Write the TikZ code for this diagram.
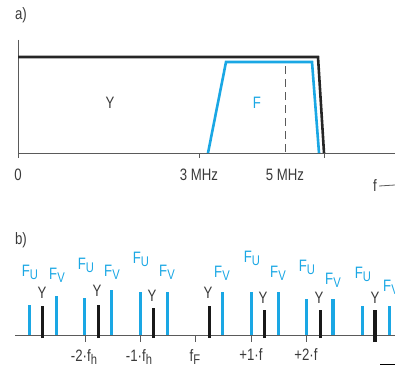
\documentclass[tikz,border=0pt]{standalone}
\usepackage{fontspec}
\setmainfont[FakeStretch=0.8]{Liberation Sans}
\usetikzlibrary{positioning}
\definecolor{Cyan}{HTML}{1AA7E4}
\definecolor{Axis}{HTML}{5A5A5A}
\definecolor{Ink}{HTML}{3A3A3A}
\newcommand{\lowsub}[1]{\raisebox{-3pt}{\fontsize{14}{14}\selectfont #1}}

\begin{document}
\begin{tikzpicture}[x=1pt,y=-1pt,font=\fontsize{16.5}{19}\selectfont,
  lbl/.style={text=Ink,inner sep=0pt},
  clbl/.style={text=Cyan,inner sep=0pt}]
  \useasboundingbox (0,0) rectangle (395,369);
  % a) band of Y and F
  \node[lbl] (pa) at (21,15) {a)};
  \draw[Axis,thick] (18,40) -- (18,158);
  \draw[Axis,thick] (18,153) -- (395,153);
  \foreach \x in {199,324} \draw[Axis,thick] (\x,153) -- (\x,158);
  \draw[Axis,thick,dash pattern=on 8pt off 5pt] (285,66) -- (285,153);
  \draw[Cyan,line width=2.6pt] (208,153) -- (226,62) -- (312,62) -- (319,153);
  \draw[black!85,line width=2.6pt] (18,57) -- (318,57) -- (324,153);
  \node[lbl] (ytop) at (110,103) {Y};
  \node[clbl] (ftop) at (257,103) {F};
  \node[lbl] (zero) at (18,175) {0};
  \node[lbl] (mhz3) at (199,175) {3 MHz};
  \node[lbl] (mhz5) at (285,175) {5 MHz};
  \node[lbl] (fax) at (375,186) {f};
  \coordinate (faxend) at (395,185);
  \draw[Axis,thick] (fax.east) ++(2pt,0) -- (faxend);
  % b) line spectrum
  \node[lbl] (pb) at (21,240) {b)};
  \draw[Axis,thick] (15,335) -- (395,335);
  \foreach \x in {85,140,195,251,306} \draw[Axis,thick] (\x,335) -- (\x,342);
  \foreach \x/\t in {29.5/305,56.3/296,84.3/298,111.3/290,140.3/292,167.3/292,
    222.3/292,251.7/292,278.3/292,306.3/299,333/299,362.3/306,389.7/306}
    \draw[Cyan,line width=3.2pt] (\x,335) -- (\x,\t);
  \foreach \x/\t/\b in {42.3/306/338,98.3/305/338,153.3/308/338,209.3/306/338,
    264.3/310/338,320.3/310/338,375/310/342}
    \draw[black!90,line width=3.2pt] (\x,\b) -- (\x,\t);
  \foreach \x/\y [count=\i] in {30/272,86/265,141/259,252/258,307/267,363/274}
    \node[clbl] (fu\i) at (\x,\y) {F\lowsub{U}};
  \foreach \x/\y [count=\i] in {57/275,112/272,167/272,222/273,278/273,333/280,391/287}
    \node[clbl] (fv\i) at (\x,\y) {F\lowsub{V}};
  \foreach \x/\y [count=\i] in {42/293,97/291,152/296,208/293,263/298,319/298,375/298}
    \node[lbl] (y\i) at (\x,\y) {Y};
  \node[lbl] (m2) at (84,357) {-2·f\lowsub{h}};
  \node[lbl] (m1) at (139,357) {-1·f\lowsub{h}};
  \node[lbl] (ff) at (195,357) {f\lowsub{F}};
  \node[lbl] (p1) at (251,355) {+1·f};
  \node[lbl] (p2) at (306,355) {+2·f};
  \coordinate (endl) at (380,364);
  \coordinate (endr) at (395,364);
  \draw[black,thick] (endl) -- (endr);
\end{tikzpicture}
\end{document}
